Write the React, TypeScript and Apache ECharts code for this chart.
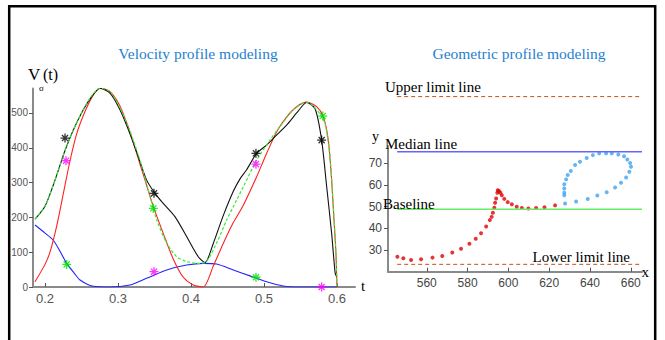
import React, { useEffect, useRef } from "react";
import * as echarts from "echarts";

// ---------- Left panel: velocity profiles (t, V) ----------
const blackCurve: number[][] = [
  [0.1863, 195], [0.2, 232], [0.2137, 307], [0.2274, 392], [0.2388, 451], [0.2525, 509],
  [0.264, 547], [0.2753, 571], [0.289, 557], [0.3027, 509], [0.3164, 440], [0.3278, 374],
  [0.3393, 307], [0.3507, 269], [0.362, 240], [0.378, 202], [0.394, 145], [0.41, 87],
  [0.4192, 70], [0.4305, 125], [0.4442, 205], [0.458, 275], [0.467, 310], [0.476, 336],
  [0.49, 384], [0.5037, 408], [0.5151, 432], [0.531, 465], [0.5448, 500], [0.5585, 530],
  [0.57, 512], [0.579, 422], [0.5858, 290], [0.5927, 154], [0.5975, 40], [0.5995, 30],
];
const redCurve: number[][] = [
  [0.1863, 15], [0.2, 65], [0.2068, 100], [0.216, 175], [0.2251, 268], [0.2342, 362],
  [0.2434, 440], [0.2548, 504], [0.2662, 552], [0.2763, 571], [0.289, 561], [0.3027, 520],
  [0.3164, 445], [0.3256, 384], [0.337, 307], [0.3484, 231], [0.362, 154], [0.3758, 80],
  [0.3895, 28], [0.4032, 6], [0.4168, 0], [0.4305, 60], [0.4442, 125], [0.458, 185],
  [0.4717, 235], [0.49, 317], [0.5037, 384], [0.5174, 446], [0.5311, 489], [0.5448, 518],
  [0.5585, 531], [0.5722, 518], [0.5813, 489], [0.5881, 422], [0.5927, 307], [0.5959, 193],
  [0.5986, 97], [0.6, 0],
];
const greenCurve: number[][] = [
  [0.1863, 195], [0.2, 232], [0.2137, 307], [0.2274, 392], [0.2388, 451], [0.2525, 510],
  [0.264, 550], [0.2753, 571], [0.289, 562], [0.3027, 515], [0.3164, 448], [0.33, 365],
  [0.3415, 279], [0.353, 193], [0.3667, 126], [0.3804, 87], [0.394, 73], [0.4078, 68],
  [0.4192, 70], [0.435, 126], [0.449, 193], [0.4626, 250], [0.4717, 288], [0.49, 365],
  [0.5082, 422], [0.5219, 461], [0.5402, 509], [0.5585, 531], [0.5744, 504], [0.5836, 470],
  [0.5904, 374], [0.595, 231], [0.5986, 97], [0.6, 0],
];
const blueCurve: number[][] = [
  [0.1863, 178], [0.2, 155], [0.211, 135], [0.22, 105], [0.2297, 68], [0.24, 40],
  [0.248, 20], [0.266, 2], [0.289, 0], [0.3164, 6], [0.339, 25], [0.3667, 49],
  [0.394, 63], [0.4168, 68], [0.435, 66], [0.458, 49], [0.4808, 32], [0.5037, 15],
  [0.526, 3], [0.549, 0], [0.6, 0],
];
const blackStars: number[][] = [[0.2274, 428], [0.3493, 269], [0.489, 384], [0.579, 422]];
const magentaStars: number[][] = [[0.2288, 363], [0.3493, 44], [0.489, 353], [0.579, 0]];
const greenStars: number[][] = [[0.2297, 65], [0.3484, 226], [0.489, 28], [0.5805, 491]];
const tTicks = [0.2, 0.3, 0.4, 0.5, 0.6];
const vTicks = [0, 100, 200, 300, 400, 500];

// ---------- Right panel: geometric profile (x, y) ----------
const redPoints: number[][] = [
  [545.6, 26.9], [548.5, 26.2], [552.3, 25.4], [557.2, 25.7], [562.8, 26.5], [567.6, 27.2],
  [572.5, 28.9], [576.8, 30.6], [580.9, 32.9], [584, 35.2], [586.6, 37.7], [589.1, 40.9],
  [590.9, 43.8], [591.8, 45.3], [592.4, 47.2], [593.1, 49.5], [593.5, 51.8], [594, 53.8],
  [594.6, 56.4], [594.8, 57.6], [595.4, 57.2], [596.1, 56.4], [596.8, 55.3], [598, 53.6],
  [599.7, 52.1], [601.7, 51.1], [604.1, 50], [606.6, 49.4], [609.8, 49.2], [613.6, 49.4],
  [617.7, 49.7], [622.9, 50.6],
];
const bluePoints: number[][] = [
  [627.4, 55.3], [627.4, 56.4], [627.4, 58.4], [627.4, 60.4], [628.3, 62.6], [629.1, 64.6],
  [630.6, 66.5], [632.7, 69.2], [635.1, 70.7], [638.4, 72.5], [641.4, 73.8], [644.5, 74.6],
  [647.9, 74.6], [650.7, 74.6], [653.9, 74.1], [656.7, 73.3], [658.3, 71.8], [659.7, 70.2],
  [660.1, 68.4], [659.3, 66.1], [657.7, 63.5], [655.2, 61], [652.3, 58.9], [648.2, 56.7],
  [643.6, 55.2], [638.9, 53.5], [633.2, 52.4], [627.8, 51.5],
];
const lineX = [545.5, 665.5];
const upperLimit = 100.8;
const medianLine = 75.4;
const baseLine = 48.8;
const lowerLimit = 23.4;
const xTicks = [560, 580, 600, 620, 640, 660];
const yTicks = [30, 40, 50, 60, 70];

const SERIF = "'Liberation Serif', 'DejaVu Serif', serif";
const SANS = "'Liberation Sans', Arial, sans-serif";
const STAR = "path://M5,0L5,10M0,5L10,5M1.6,1.6L8.4,8.4M1.6,8.4L8.4,1.6";

function hLine(y: number) {
  return lineX.map((x) => [x, y]);
}

export default function App() {
  const ref = useRef<HTMLDivElement>(null);
  useEffect(() => {
    if (!ref.current) return;
    const chart = echarts.init(ref.current, null, { renderer: "svg" });
    const axisGrey = { lineStyle: { color: "#8a8a8a", width: 2 } };
    const starSeries = (data: number[][], color: string) => ({
      type: "scatter",
      xAxisIndex: 0,
      yAxisIndex: 0,
      data,
      symbol: STAR,
      symbolSize: 9,
      itemStyle: { color: "rgba(0,0,0,0)", borderColor: color, borderWidth: 1.3 },
      z: 5,
    });
    const curve = (data: number[][], color: string, extra: any = {}) => ({
      type: "line",
      xAxisIndex: 0,
      yAxisIndex: 0,
      data,
      showSymbol: false,
      smooth: 0.25,
      lineStyle: { color, width: 1.1, ...extra },
    });
    const limit = (y: number, color: string, dashed: boolean, width: number) => ({
      type: "line",
      xAxisIndex: 2,
      yAxisIndex: 2,
      data: hLine(y),
      showSymbol: false,
      lineStyle: { color, width, type: dashed ? [4, 3] : "solid" },
    });
    const text = (t: string, x: number, y: number, size: number, extra: any = {}) => ({
      type: "text",
      x,
      y,
      z: 10,
      style: {
        text: t,
        fontSize: size,
        fontFamily: SERIF,
        fill: "#000",
        align: "left",
        verticalAlign: "middle",
        ...extra,
      },
    });
    chart.setOption({
      animation: false,
      backgroundColor: "#fff",
      grid: [
        { left: 33, right: 310, top: 88.6, bottom: 53 },
        { left: 388, right: 23, top: 146, bottom: 68.3 },
        { left: 388, right: 23, top: 94, bottom: 68.3 },
      ],
      xAxis: [
        {
          type: "value", gridIndex: 0, min: 0.18356, max: 0.6247,
          axisLine: axisGrey,
          axisTick: { inside: true, length: 4, customValues: tTicks, lineStyle: { color: "#555" } },
          axisLabel: { customValues: tTicks, formatter: (v: number) => v.toFixed(1), fontSize: 13, fontFamily: SANS, color: "#555", margin: 5 },
          splitLine: { show: false },
        },
        {
          type: "value", gridIndex: 1, min: 541, max: 665.5,
          axisLine: axisGrey,
          axisTick: { inside: true, length: 4, customValues: xTicks, lineStyle: { color: "#555" } },
          axisLabel: { customValues: xTicks, fontSize: 12, fontFamily: SANS, color: "#444", margin: 5 },
          splitLine: { show: false },
        },
        { type: "value", gridIndex: 2, min: 541, max: 665.5, show: false },
      ],
      yAxis: [
        {
          type: "value", gridIndex: 0, min: 0, max: 570,
          axisLine: { show: true, ...axisGrey },
          axisTick: { show: true, inside: false, length: 4, customValues: vTicks, lineStyle: { color: "#555" } },
          axisLabel: { customValues: vTicks, fontSize: 10, fontFamily: SANS, color: "#555", margin: 5 },
          splitLine: { show: false },
        },
        {
          type: "value", gridIndex: 1, min: 20, max: 78,
          axisLine: { show: true, ...axisGrey },
          axisTick: { show: true, inside: false, length: 4, customValues: yTicks, lineStyle: { color: "#555" } },
          axisLabel: { customValues: yTicks, fontSize: 12, fontFamily: SANS, color: "#444", margin: 6 },
          splitLine: { show: false },
        },
        { type: "value", gridIndex: 2, min: 20, max: 102, show: false },
      ],
      series: [
        curve(blueCurve, "#2222ff"),
        curve(redCurve, "#ff2020"),
        curve(blackCurve, "#111111", {}),
        curve(greenCurve, "#33ee33", { type: [3, 2], width: 1.2 }),
        starSeries(blackStars, "#000"),
        starSeries(magentaStars, "#ff00ff"),
        starSeries(greenStars, "#00e000"),
        limit(upperLimit, "#c8501e", true, 1),
        limit(medianLine, "#6464ff", false, 1.5),
        limit(baseLine, "#66ee66", false, 1.5),
        limit(lowerLimit, "#c8501e", true, 1),
        {
          type: "scatter", xAxisIndex: 2, yAxisIndex: 2, data: redPoints,
          symbol: "circle", symbolSize: 4, itemStyle: { color: "#e00000" },
        },
        {
          type: "scatter", xAxisIndex: 2, yAxisIndex: 2, data: bluePoints,
          symbol: "circle", symbolSize: 4, itemStyle: { color: "#3ea2f2" },
        },
      ],
      graphic: [
        {
          type: "rect",
          shape: { x: 9.2, y: 6.2, width: 646, height: 360 },
          style: { fill: "none", stroke: "#000", lineWidth: 2.5 },
        },
        text("Velocity profile modeling", 198, 53, 15.5, { fill: "#1f7fcf", align: "center" }),
        text("Geometric profile modeling", 519, 53.5, 15.5, { fill: "#1f7fcf", align: "center" }),
        text("V", 28, 74, 17),
        text("(t)", 43, 74, 16),
        text("σ", 39, 88, 9),
        text("t", 361, 286, 15),
        text("Upper limit line", 385, 87, 15),
        text("Median line", 385, 144, 15),
        text("Baseline", 383, 203.5, 15),
        text("Lower limit line", 532.5, 257.3, 15),
        text("y", 372, 136, 14),
        text("x", 641.5, 272, 15),
      ],
    });
    return () => chart.dispose();
  }, []);
  return (
    <div
      ref={ref}
      style={{ position: "fixed", left: 0, top: 0, width: 665, height: 340, background: "#fff" }}
    />
  );
}
